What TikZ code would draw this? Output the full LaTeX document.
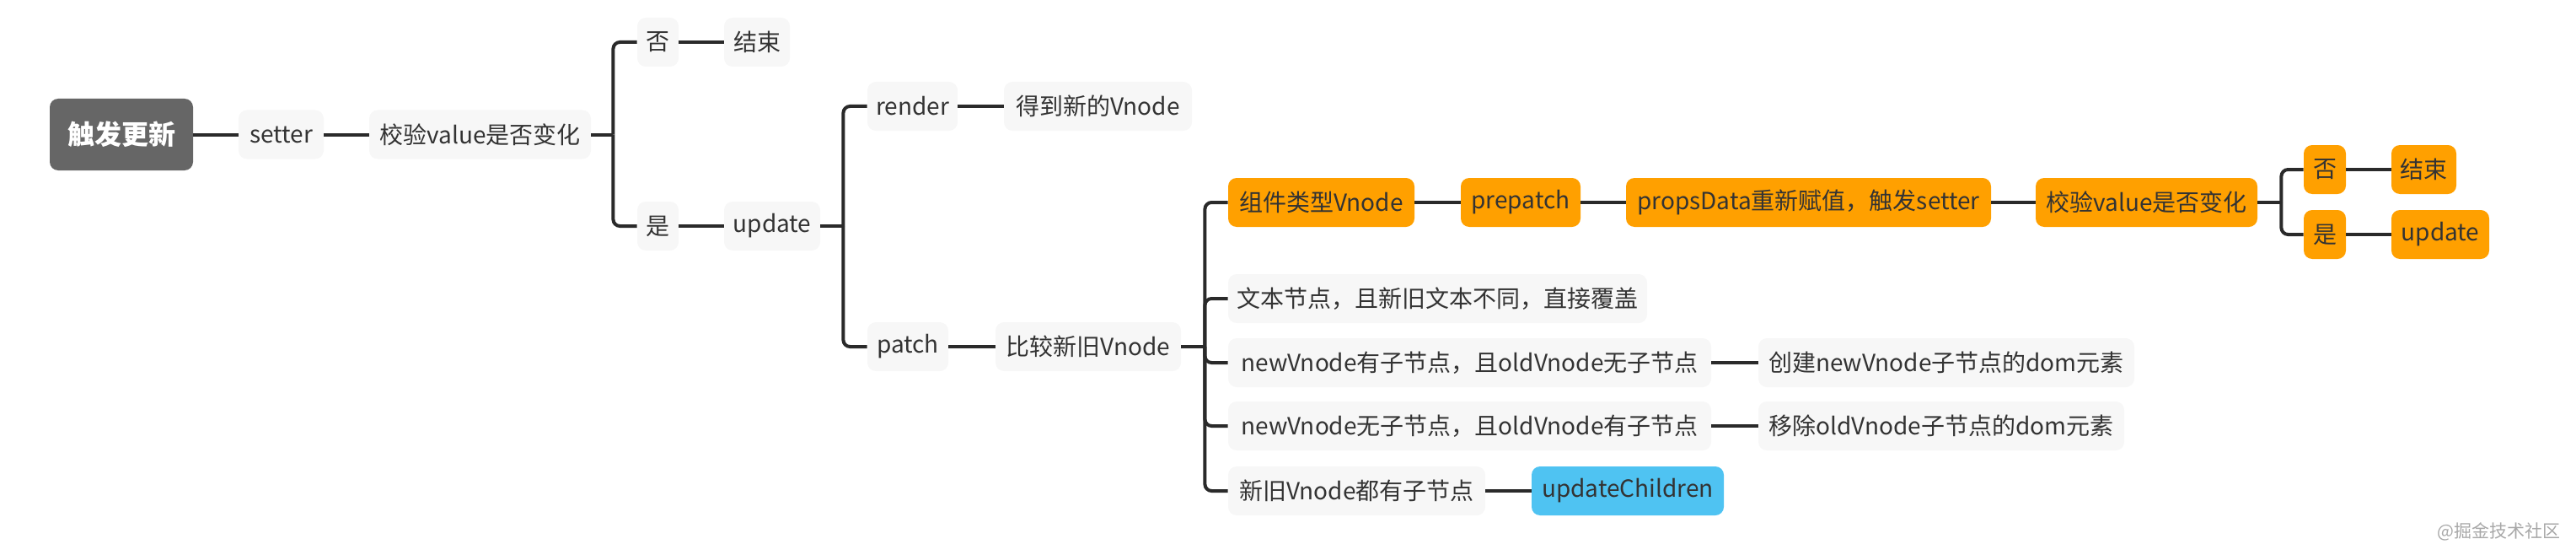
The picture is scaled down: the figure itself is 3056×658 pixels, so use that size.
\documentclass[tikz,border=0pt]{standalone}
\usepackage{fontspec}
\setmainfont{Noto Sans CJK SC}
\definecolor{linec}{HTML}{2A2A2A}
\definecolor{txtc}{HTML}{333333}
\definecolor{gfill}{HTML}{F7F7F7}
\definecolor{rootc}{HTML}{666666}
\definecolor{orangec}{HTML}{FFA000}
\definecolor{bluec}{HTML}{4FC3F2}
\definecolor{wmc}{HTML}{A8A8A8}
\newcommand\mmnode[6]{\node[#2, minimum width={(#4-#3)*0.5pt}] (#1) at ({(#3+#4)/2},#5) {#6};}
\tikzset{
  basebox/.style={rounded corners=5pt, minimum height=29pt, inner xsep=0pt, inner ysep=0pt,
    font=\fontsize{14}{16}\selectfont, text=txtc},
  gbox/.style={basebox, fill=gfill},
  obox/.style={basebox, fill=orangec},
  bbox/.style={basebox, fill=bluec},
  rootbox/.style={basebox, fill=rootc, text=white, minimum height=42.5pt,
    font=\fontsize{16}{18}\selectfont\bfseries},
  conn/.style={draw=linec, line width=2pt},
  brk/.style={conn, rounded corners=4pt},
}
\begin{document}
\begin{tikzpicture}[x=0.5pt,y=-0.5pt]
\useasboundingbox (0,0) rectangle (3056,658);
% nodes
\mmnode{root}{rootbox}{59}{229}{159.5}{触发更新}
\mmnode{setter}{gbox}{283}{384}{159.5}{setter}
\mmnode{chka}{gbox}{438}{701}{159.5}{校验value是否变化}
\mmnode{noa}{gbox}{756}{805}{50}{否}
\mmnode{enda}{gbox}{859}{937}{50}{结束}
\mmnode{yesa}{gbox}{756}{805}{268}{是}
\mmnode{upda}{gbox}{859}{973}{268}{update}
\mmnode{render}{gbox}{1029}{1136}{126}{render}
\mmnode{newv}{gbox}{1191}{1414}{126}{得到新的Vnode}
\mmnode{patch}{gbox}{1029}{1125}{411}{patch}
\mmnode{cmp}{gbox}{1181}{1401}{411}{比较新旧Vnode}
\mmnode{comp}{obox}{1457}{1678}{240}{组件类型Vnode}
\mmnode{prep}{obox}{1733}{1875}{240}{prepatch}
\mmnode{props}{obox}{1929}{2362}{240}{propsData重新赋值，触发setter}
\mmnode{chkb}{obox}{2415}{2678}{240}{校验value是否变化}
\mmnode{nob}{obox}{2733}{2783}{201}{否}
\mmnode{endb}{obox}{2837}{2914}{201}{结束}
\mmnode{yesb}{obox}{2733}{2783}{278}{是}
\mmnode{updb}{obox}{2837}{2953}{278}{update}
\mmnode{txt}{gbox}{1457}{1954}{354}{文本节点，且新旧文本不同，直接覆盖}
\mmnode{newhas}{gbox}{1457}{2030}{430}{newVnode有子节点，且oldVnode无子节点}
\mmnode{create}{gbox}{2086}{2532}{430}{创建newVnode子节点的dom元素}
\mmnode{newno}{gbox}{1457}{2030}{505}{newVnode无子节点，且oldVnode有子节点}
\mmnode{remove}{gbox}{2086}{2520}{505}{移除oldVnode子节点的dom元素}
\mmnode{both}{gbox}{1457}{1762}{582}{新旧Vnode都有子节点}
\mmnode{uc}{bbox}{1817}{2045}{582}{updateChildren}
\node[font=\fontsize{10.5}{12}\selectfont, text=wmc, anchor=east, inner sep=0pt] (wm) at (3038,630) {@掘金技术社区};
% straight connectors
\draw[conn] (root.east) -- (setter.west);
\draw[conn] (setter.east) -- (chka.west);
\draw[conn] (noa.east) -- (enda.west);
\draw[conn] (yesa.east) -- (upda.west);
\draw[conn] (render.east) -- (newv.west);
\draw[conn] (patch.east) -- (cmp.west);
\draw[conn] (comp.east) -- (prep.west);
\draw[conn] (prep.east) -- (props.west);
\draw[conn] (props.east) -- (chkb.west);
\draw[conn] (nob.east) -- (endb.west);
\draw[conn] (yesb.east) -- (updb.west);
\draw[conn] (newhas.east) -- (create.west);
\draw[conn] (newno.east) -- (remove.west);
\draw[conn] (both.east) -- (uc.west);
% forks
\path (chka.east) ++(26,0) coordinate (ja);
\draw[conn] (chka.east) -- (ja);
\draw[brk] (ja) |- (noa.west);
\draw[brk] (ja) |- (yesa.west);
\path (upda.east) ++(27,0) coordinate (jb);
\draw[conn] (upda.east) -- (jb);
\draw[brk] (jb) |- (render.west);
\draw[brk] (jb) |- (patch.west);
\path (cmp.east) ++(28,0) coordinate (jc);
\draw[conn] (cmp.east) -- (jc);
\draw[brk] (jc) |- (comp.west);
\draw[brk] (jc) |- (txt.west);
\draw[brk] (jc) |- (newhas.west);
\draw[brk] (jc) |- (newno.west);
\draw[brk] (jc) |- (both.west);
\path (chkb.east) ++(28,0) coordinate (jd);
\draw[conn] (chkb.east) -- (jd);
\draw[brk] (jd) |- (nob.west);
\draw[brk] (jd) |- (yesb.west);
\end{tikzpicture}
\end{document}
